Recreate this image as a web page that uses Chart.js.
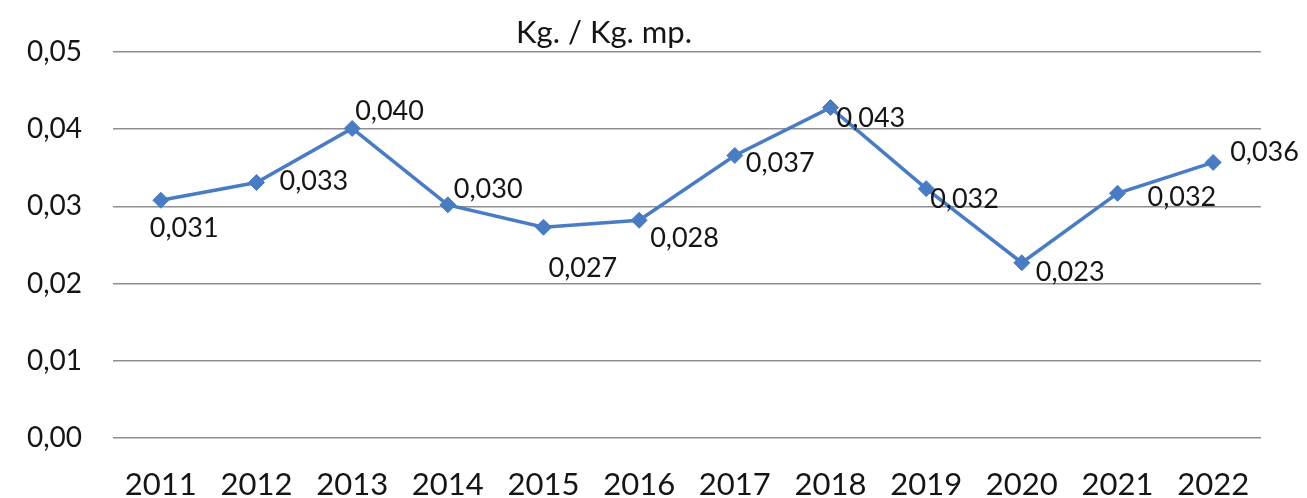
<!DOCTYPE html>
<html>
<head>
<meta charset="utf-8">
<script src="https://cdn.jsdelivr.net/npm/chart.js@4/dist/chart.umd.min.js"></script>
<style>
  html, body { margin: 0; padding: 0; background: #ffffff; }
  #wrap { width: 1307px; height: 498px; }
</style>
</head>
<body>
<div id="wrap"><canvas id="c" width="1307" height="498"></canvas></div>
<script>
// ---- data ----
const categories = ['2011','2012','2013','2014','2015','2016','2017','2018','2019','2020','2021','2022'];
const values = [0.0308, 0.0331, 0.0401, 0.0302, 0.0273, 0.0282, 0.0366, 0.0428, 0.0323, 0.0227, 0.0317, 0.0357];
const yTicks = [0, 0.01, 0.02, 0.03, 0.04, 0.05];
const chartTitle = 'Kg. / Kg. mp.';

// ---- presentation ----
const FONT = 'Lato, "Open Sans", sans-serif';
const TEXT = '#151515';
const BLUE = '#4a7cc3';
// label offsets relative to each point: [dx to left edge, dy to centre]
const labelOffsets = [[-11,28],[23,-1],[3,-17],[6,-16],[5,41],[11,18],[11,8],[6,11],[4,11],[14,10],[30,4],[17,-10]];

const titlePlugin = {
  id: 'customTitle',
  afterDraw(chart) {
    const ctx = chart.ctx;
    ctx.save();
    ctx.font = '31px ' + FONT;
    ctx.fillStyle = TEXT;
    ctx.textAlign = 'center';
    ctx.textBaseline = 'alphabetic';
    ctx.fillText(chartTitle, 604, 43);
    ctx.restore();
  }
};

const dataLabelPlugin = {
  id: 'dataLabels',
  afterDatasetsDraw(chart) {
    const ctx = chart.ctx;
    const meta = chart.getDatasetMeta(0);
    ctx.save();
    ctx.font = '27px ' + FONT;
    ctx.fillStyle = TEXT;
    ctx.textAlign = 'left';
    ctx.textBaseline = 'middle';
    meta.data.forEach((pt, i) => {
      const v = chart.data.datasets[0].data[i];
      const txt = v.toFixed(3).replace('.', ',');
      const off = labelOffsets[i] || [8, 0];
      ctx.fillText(txt, pt.x + off[0], pt.y + off[1]);
    });
    ctx.restore();
  }
};

new Chart(document.getElementById('c'), {
  type: 'line',
  data: {
    labels: categories,
    datasets: [{
      data: values,
      borderColor: BLUE,
      backgroundColor: BLUE,
      borderWidth: 3.5,
      tension: 0,
      pointStyle: 'rectRot',
      pointRadius: 8,
      pointHoverRadius: 8,
      pointBackgroundColor: BLUE,
      pointBorderColor: BLUE,
      pointBorderWidth: 1
    }]
  },
  options: {
    responsive: false,
    animation: false,
    events: [],
    layout: { padding: { top: 52, right: 46, bottom: 0, left: 0 } },
    plugins: {
      legend: { display: false },
      title: { display: false },
      tooltip: { enabled: false }
    },
    scales: {
      x: {
        offset: true,
        grid: { display: false, drawTicks: false },
        border: { display: false },
        ticks: {
          font: { family: FONT, size: 31 },
          color: TEXT,
          padding: 28,
          maxRotation: 0,
          autoSkip: false
        },
        afterFit(scale) { scale.height = 60; }
      },
      y: {
        min: 0,
        max: 0.05,
        afterBuildTicks(scale) { scale.ticks = yTicks.map(v => ({ value: v })); },
        grid: { color: '#8f8f8f', lineWidth: 1.6, drawTicks: false },
        border: { display: false },
        ticks: {
          font: { family: FONT, size: 28 },
          color: TEXT,
          padding: 31,
          callback: (v) => Number(v).toFixed(2).replace('.', ',')
        },
        afterFit(scale) { scale.width = 113; }
      }
    }
  },
  plugins: [titlePlugin, dataLabelPlugin]
});
</script>
</body>
</html>
